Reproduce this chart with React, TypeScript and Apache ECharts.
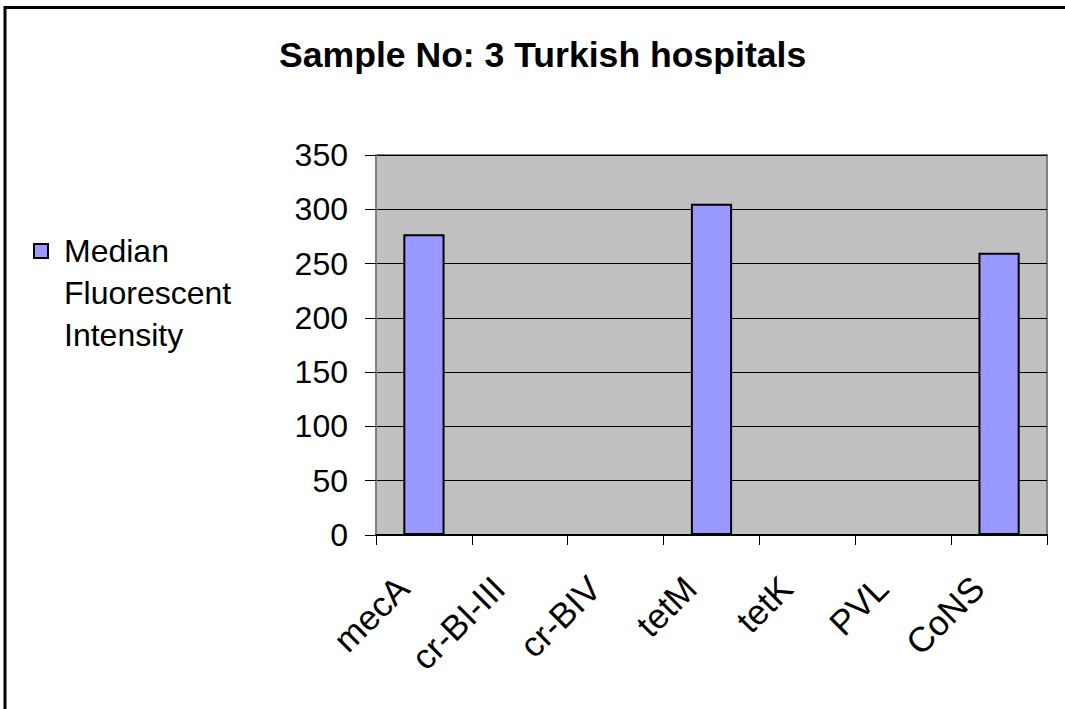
import React, { useEffect, useRef } from "react";
import * as echarts from "echarts";

const categories = ["mecA", "cr-BI-III", "cr-BIV", "tetM", "tetK", "PVL", "CoNS"];
const mfiValues = [277, 0, 0, 305, 0, 0, 260];
const seriesName = "Median Fluorescent Intensity";
const legendLines = ["", "", "Median", "Fluorescent", "Intensity"];
const titleText = "Sample No: 3 Turkish hospitals";
const yMin = 0;
const yMax = 350;
const yStep = 50;

const FONT = "'Liberation Sans', Arial, Helvetica, sans-serif";

export default function App() {
  const ref = useRef<HTMLDivElement>(null);

  useEffect(() => {
    if (!ref.current) return;
    const chart = echarts.init(ref.current, null, { renderer: "svg" });
    chart.setOption({
      animation: false,
      backgroundColor: "#ffffff",
      textStyle: { fontFamily: FONT },
      title: {
        text: titleText,
        left: 279,
        top: 37,
        padding: 0,
        textStyle: { fontFamily: FONT, fontSize: 35.6, fontWeight: "bold", color: "#000" },
      },
      legend: {
        left: 33,
        top: 146,
        padding: 0,
        orient: "vertical",
        icon: "rect",
        itemWidth: 14,
        itemHeight: 14,
        // blank leading lines keep the swatch level with the first word
        formatter: () => legendLines.join("\n"),
        textStyle: {
          fontFamily: FONT,
          fontSize: 32,
          color: "#000",
          lineHeight: 42,
          padding: [0, 0, 0, 11],
        },
        data: [seriesName],
      },
      grid: {
        left: 376,
        right: 18,
        top: 155,
        bottom: 174,
        show: true,
        backgroundColor: "#C0C0C0",
        borderColor: "#808080",
        borderWidth: 2,
      },
      xAxis: {
        type: "category",
        data: categories,
        boundaryGap: true,
        axisLine: { show: true, lineStyle: { color: "#000", width: 2 } },
        axisTick: { show: true, alignWithLabel: false, length: 10, lineStyle: { color: "#000", width: 1 } },
        axisLabel: {
          rotate: 45,
          interval: 0,
          margin: 26,
          padding: [0, 30, 0, 0],
          fontFamily: FONT,
          fontSize: 35,
          color: "#000",
        },
      },
      yAxis: {
        type: "value",
        min: yMin,
        max: yMax,
        interval: yStep,
        axisLine: { show: true, lineStyle: { color: "#808080", width: 2 } },
        axisTick: { show: true, inside: false, length: 11, lineStyle: { color: "#000", width: 1 } },
        axisLabel: { margin: 28, fontFamily: FONT, fontSize: 32, color: "#000" },
        splitLine: { show: true, lineStyle: { color: "#000", width: 1 } },
      },
      series: [
        {
          name: seriesName,
          type: "bar",
          data: mfiValues,
          barWidth: "43%",
          itemStyle: { color: "#9999FF", borderColor: "#000", borderWidth: 2 },
        },
      ],
      graphic: [
        {
          type: "polyline",
          silent: true,
          z: 100,
          shape: { points: [[5, 760], [5, 7.5], [1100, 7.5]] },
          style: { fill: "none", stroke: "#000", lineWidth: 3 },
        },
      ],
    });
    return () => chart.dispose();
  }, []);

  return (
    <div
      ref={ref}
      style={{ position: "fixed", left: 0, top: 0, width: 1065, height: 709 }}
    />
  );
}
